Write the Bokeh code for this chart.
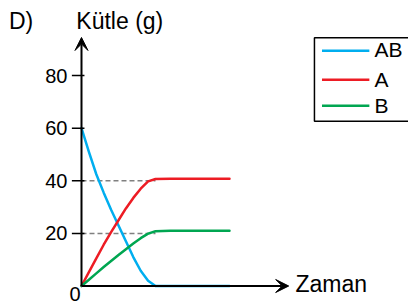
from bokeh.plotting import figure
from bokeh.models import Range1d, Arrow, VeeHead
from bokeh.core.properties import value
from bokeh.embed import file_html
from bokeh.resources import INLINE

# ---- data ----
time = [0, 0.5, 1, 1.5, 2, 2.5, 3, 3.5, 4, 4.5, 5, 6, 7, 8, 9, 10]
mass_ab = [60, 51, 42.5, 35.5, 29, 23, 17, 11, 5.8, 2, 0, 0, 0, 0, 0, 0]
mass_a = [0, 5.3, 10.5, 15.7, 20.5, 25, 29.5, 33.5, 37, 39.8, 40.7, 40.8, 40.8, 40.8, 40.8, 40.8]
mass_b = [0, 2.4, 4.8, 7.2, 9.5, 11.8, 14, 16.2, 18.2, 19.9, 20.8, 21, 21, 21, 21, 21]
series_names = ["AB", "A", "B"]
series_colors = ["#00AEEF", "#ED1C24", "#00A651"]
y_ticks = [20, 40, 60, 80]
y_tick_labels = ["20", "40", "60", "80"]
ref_levels = [40, 20]
ref_end_time = 5

FONT = value("Liberation Sans")

p = figure(width=408, height=304, output_backend="svg", toolbar_location=None,
           x_range=Range1d(-5.473, 22.095), y_range=Range1d(-7.03, 108.56),
           min_border=0, outline_line_color=None)
p.xaxis.visible = False
p.yaxis.visible = False
p.grid.visible = False
p.background_fill_color = "white"

# dashed reference lines
for lv in ref_levels:
    p.line([0, ref_end_time], [lv, lv], line_color="#808080", line_width=1.5, line_dash="5 3")

# curves
for vals, col in zip([mass_ab, mass_a, mass_b], series_colors):
    p.line(time, vals, line_color=col, line_width=2.5, line_join="round", line_cap="round")

# axes with arrows
p.add_layout(Arrow(x_start=0, y_start=0, x_end=0, y_end=94.5, line_width=2, line_color="black",
                   end=VeeHead(size=13, fill_color="black", line_color="black", line_width=1)))
p.add_layout(Arrow(x_start=0, y_start=0, x_end=14.0, y_end=0, line_width=2, line_color="black",
                   end=VeeHead(size=13, fill_color="black", line_color="black", line_width=1)))

# y ticks and labels
p.segment(x0=[-0.65] * len(y_ticks), y0=y_ticks, x1=[0.2] * len(y_ticks), y1=y_ticks,
          line_color="black", line_width=1.5)
p.text(x=[-0.95] * len(y_ticks), y=y_ticks, text=y_tick_labels, text_font=FONT,
       text_font_size="20px", text_align="right", text_baseline="middle", text_color="black")
p.text(x=[-0.44], y=[-3.0], text=["0"], text_font=FONT, text_font_size="20px",
       text_align="center", text_baseline="middle", text_color="black")

# titles
p.text(x=[-4.9], y=[100.8], text=["D)"], text_font=FONT, text_font_size="23px",
       text_align="left", text_baseline="middle", text_color="black")
p.text(x=[-0.35], y=[100.8], text=["Kütle (g)"], text_font=FONT, text_font_size="23px",
       text_align="left", text_baseline="middle", text_color="black")
p.text(x=[14.46], y=[0.84], text=["Zaman"], text_font=FONT, text_font_size="23px",
       text_align="left", text_baseline="middle", text_color="black")

# legend box
p.quad(left=[15.74], right=[25], top=[94.37], bottom=[62.66], fill_color=None,
       line_color="black", line_width=1.5)
leg_y = [89.5, 78.4, 68.5]
for name, col, ly in zip(series_names, series_colors, leg_y):
    p.line([16.25, 19.45], [ly, ly], line_color=col, line_width=2.5)
    p.text(x=[19.8], y=[ly + 0.3], text=[name], text_font=FONT, text_font_size="21px",
           text_align="left", text_baseline="middle", text_color="black")

open("out.html", "w").write(file_html(p, INLINE))
